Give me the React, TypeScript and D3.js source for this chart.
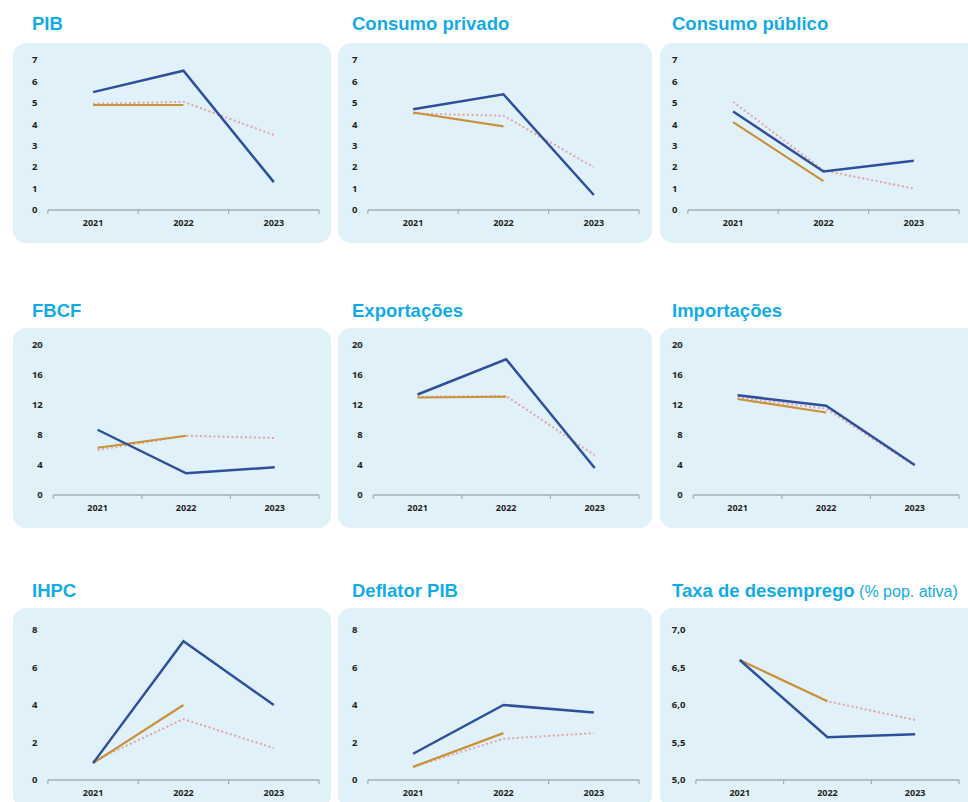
import * as d3 from "d3";

const years = ["2021", "2022", "2023"];

const titles = [
  "PIB", "Consumo privado", "Consumo público",
  "FBCF", "Exportações", "Importações",
  "IHPC", "Deflator PIB", "Taxa de desemprego",
];

// blue line (full), orange line (2021-2022), pink dotted line
const pibA = [5.5, 6.5, 1.3];
const pibB = [4.9, 4.9];
const pibC = [4.95, 5.05, 3.5];

const consPrivA = [4.7, 5.4, 0.7];
const consPrivB = [4.55, 3.9];
const consPrivC = [4.5, 4.4, 2.0];

const consPubA = [4.6, 1.8, 2.3];
const consPubB = [4.1, 1.35];
const consPubC = [5.05, 1.85, 1.0];

const fbcfA = [8.7, 2.9, 3.7];
const fbcfB = [6.3, 7.9];
const fbcfC = [6.0, 7.9, 7.6];

const exportA = [13.4, 18.1, 3.6];
const exportB = [13.0, 13.1];
const exportC = [13.1, 13.2, 5.3];

const importA = [13.3, 11.9, 4.0];
const importB = [12.8, 11.0];
const importC = [13.0, 11.5, 3.9];

const ihpcA = [0.9, 7.4, 4.0];
const ihpcB = [0.9, 4.0];
const ihpcC = [1.0, 3.25, 1.7];

const deflA = [1.4, 4.0, 3.6];
const deflB = [0.7, 2.5];
const deflC = [0.7, 2.2, 2.5];

const desempA = [6.6, 5.57, 5.61];
const desempB = [6.6, 6.05];
const desempC = [6.6, 6.05, 5.8];

const ticksPct7 = [0, 1, 2, 3, 4, 5, 6, 7];
const ticksPct20 = [0, 4, 8, 12, 16, 20];
const ticksPct8 = [0, 2, 4, 6, 8];
const ticksDesemp = [5, 5.5, 6, 6.5, 7];

const series = [
  [pibA, pibB, pibC],
  [consPrivA, consPrivB, consPrivC],
  [consPubA, consPubB, consPubC],
  [fbcfA, fbcfB, fbcfC],
  [exportA, exportB, exportC],
  [importA, importB, importC],
  [ihpcA, ihpcB, ihpcC],
  [deflA, deflB, deflC],
  [desempA, desempB, desempC],
];

const tickSets = [
  ticksPct7, ticksPct7, ticksPct7,
  ticksPct20, ticksPct20, ticksPct20,
  ticksPct8, ticksPct8, ticksDesemp,
];

// layout
const colRectX = [13, 338, 660];
const colRectW = [318, 314, 320];
const colAxisRight = [319, 639, 959];
const colLabelLeft = [32, 352, 672];
const rowRectY = [43, 328, 608];
const rowTitleY = [30, 317, 597];
const rowPlotTop = [60, 345, 630];
const rowPlotBottom = [210, 495, 780];
const rowYearY = [223, 508, 793];

const BLUE = "#2e4f9a";
const ORANGE = "#c9913a";
const PINK = "#e3a4a4";
const TITLE = "#12abe6";
const BG = "#e0f1fa";
const AXIS = "#a5adb5";
const TEXT = "#231f20";

const fmt = (i: number) => (i === 8 ? (v: number) => d3.format(".1f")(v).replace(".", ",") : (v: number) => String(v));

const textW = (s: string) => s.split("").reduce((a, c) => a + (c === "," ? 2.6 : 5.4), 0);

function Panel({ idx }: { idx: number }) {
  const col = idx % 3;
  const row = Math.floor(idx / 3);
  const ticks = tickSets[idx];
  const f = fmt(idx);
  const labels = ticks.map(f);
  const maxW = d3.max(labels, textW) || 0;
  const labelRight = colLabelLeft[col] + maxW;
  const axisLeft = labelRight + 10.5;
  const axisRight = colAxisRight[col];

  const x = d3.scaleBand().domain(years).range([axisLeft, axisRight]).padding(0);
  const y = d3
    .scaleLinear()
    .domain([ticks[0], ticks[ticks.length - 1]])
    .range([rowPlotBottom[row], rowPlotTop[row]]);

  const line = d3
    .line<number>()
    .x((_, i) => (x(years[i]) || 0) + x.bandwidth() / 2)
    .y((d) => y(d));

  const [a, b, c] = series[idx];
  const edges = [...years.map((yr) => x(yr) || 0), axisRight];
  const title = titles[idx];

  return (
    <g>
      <rect x={colRectX[col]} y={rowRectY[row]} width={colRectW[col]} height={200} rx={13} fill={BG} />
      <text
        x={colLabelLeft[col]}
        y={rowTitleY[row]}
        fill={TITLE}
        style={{ fontFamily: "'Liberation Sans', Arial, sans-serif", fontWeight: 700, fontSize: 18.5 }}
      >
        {title}
        {idx === 8 && (
          <tspan style={{ fontWeight: 400, fontSize: 16 }}> (% pop. ativa)</tspan>
        )}
      </text>
      {ticks.map((t, i) => (
        <text
          key={i}
          x={labelRight}
          y={y(t)}
          dy="0.35em"
          textAnchor="end"
          fill={TEXT}
          style={{ fontFamily: "'Open Sans', sans-serif", fontWeight: 700, fontSize: 9.5 }}
        >
          {labels[i]}
        </text>
      ))}
      <line x1={axisLeft} x2={axisRight} y1={rowPlotBottom[row]} y2={rowPlotBottom[row]} stroke={AXIS} strokeWidth={1.5} />
      {edges.map((ex, i) => (
        <line key={i} x1={ex} x2={ex} y1={rowPlotBottom[row]} y2={rowPlotBottom[row] + 4} stroke={AXIS} strokeWidth={1.2} />
      ))}
      {years.map((yr) => (
        <text
          key={yr}
          x={(x(yr) || 0) + x.bandwidth() / 2}
          y={rowYearY[row]}
          dy="0.35em"
          textAnchor="middle"
          fill={TEXT}
          style={{ fontFamily: "'Open Sans', sans-serif", fontWeight: 700, fontSize: 9 }}
        >
          {yr}
        </text>
      ))}
      <path d={line(c) || ""} fill="none" stroke={PINK} strokeWidth={2} strokeDasharray="2,2.5" />
      <path d={line(b) || ""} fill="none" stroke={ORANGE} strokeWidth={2.2} />
      <path d={line(a) || ""} fill="none" stroke={BLUE} strokeWidth={2.5} />
    </g>
  );
}

export default function App() {
  return (
    <svg width={968} height={802} style={{ position: "absolute", left: 0, top: 0, background: "#fff" }}>
      {titles.map((_, i) => (
        <Panel key={i} idx={i} />
      ))}
    </svg>
  );
}
